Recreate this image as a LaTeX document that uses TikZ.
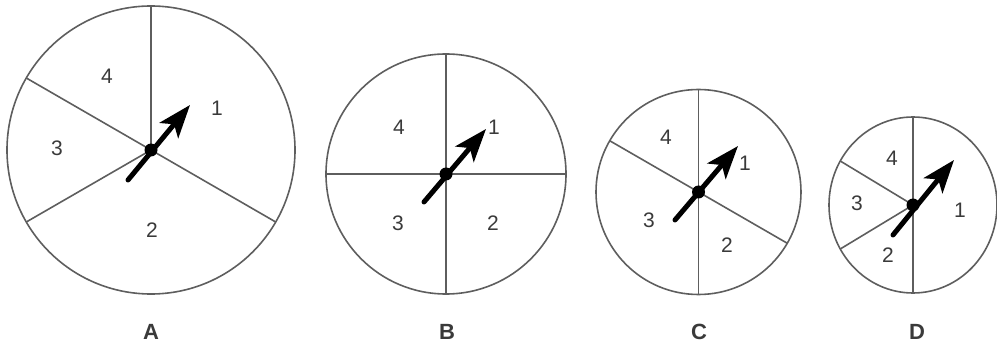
\documentclass[tikz,border=0pt]{standalone}
\usepackage{fontspec}
\setmainfont{Liberation Sans}
\usetikzlibrary{arrows.meta}
\definecolor{rim}{HTML}{5E5E5E}
\definecolor{ink}{HTML}{3A3A3A}
\tikzset{
  rimline/.style={draw=rim, line width=1.6pt},
  num/.style={text=ink, font=\fontsize{21}{21}\selectfont, inner sep=0pt},
  letter/.style={text=ink, font=\fontsize{22}{22}\selectfont\bfseries, inner sep=0pt},
  pointer/.style={line width=5pt, line cap=round, black,
    -{Stealth[length=33pt, width=24pt, inset=8pt]}},
  hub/.style={circle, fill=black, minimum size=13pt, inner sep=0pt}
}
\begin{document}
\begin{tikzpicture}[x=1pt,y=1pt]
\useasboundingbox (0,0) rectangle (997,351);
% ---------- A ----------
\coordinate (ca) at (151,201);
\draw[rimline] (ca) circle (144);
\draw[rimline] (ca) -- ++(90:144);
\draw[rimline] (ca) -- ++(150:144);
\draw[rimline] (ca) -- ++(210:144);
\draw[rimline] (ca) -- ++(-30:144);
\node[num] (a4) at (107,275) {4};
\node[num] (a1) at (217,243) {1};
\node[num] (a3) at (57,203) {3};
\node[num] (a2) at (152,121) {2};
\coordinate (ta) at (128,171);
\coordinate (pa) at (190,246);
\draw[pointer] (ta) -- (pa);
\node[hub] (ha) at (ca) {};
\node[letter] (la) at (151,19) {A};
% ---------- B ----------
\coordinate (cb) at (446,177);
\draw[rimline] (cb) circle (120);
\draw[rimline] (cb) ++(0,120) -- ++(0,-240);
\draw[rimline] (cb) ++(-120,0) -- ++(240,0);
\node[num] (b4) at (399,224) {4};
\node[num] (b1) at (494,224) {1};
\node[num] (b3) at (398,128) {3};
\node[num] (b2) at (493,128) {2};
\coordinate (tb) at (424,149);
\coordinate (pb) at (486,222);
\draw[pointer] (tb) -- (pb);
\node[hub] (hb) at (cb) {};
\node[letter] (lb) at (447,19) {B};
% ---------- C ----------
\coordinate (cc) at (698.5,159);
\draw[rimline] (cc) circle (102.5);
\draw[rimline] (cc) ++(0,102.5) -- ++(0,-205);
\draw[rimline] (cc) -- ++(150:102.5);
\draw[rimline] (cc) -- ++(-30:102.5);
\node[num] (c4) at (666,214) {4};
\node[num] (c1) at (745,188) {1};
\node[num] (c3) at (649,131) {3};
\node[num] (c2) at (727,106) {2};
\coordinate (tc) at (675,131);
\coordinate (pc) at (738,205);
\draw[pointer] (tc) -- (pc);
\node[hub] (hc) at (cc) {};
\node[letter] (lc) at (699,19) {C};
% ---------- D ----------
\coordinate (cd) at (913,146);
\draw[rimline] (cd) ellipse [x radius=84, y radius=88];
\draw[rimline] (cd) ++(0,88) -- ++(0,-176);
\draw[rimline] (cd) -- ++(150:84 and 88);
\draw[rimline] (cd) -- ++(210:84 and 88);
\node[num] (d4) at (892,193) {4};
\node[num] (d3) at (857,148) {3};
\node[num] (d2) at (888,96) {2};
\node[num] (d1) at (960,141) {1};
\coordinate (td) at (893,116);
\coordinate (pd) at (954,191);
\draw[pointer] (td) -- (pd);
\node[hub] (hd) at (cd) {};
\node[letter] (ld) at (917,19) {D};
\end{tikzpicture}
\end{document}
